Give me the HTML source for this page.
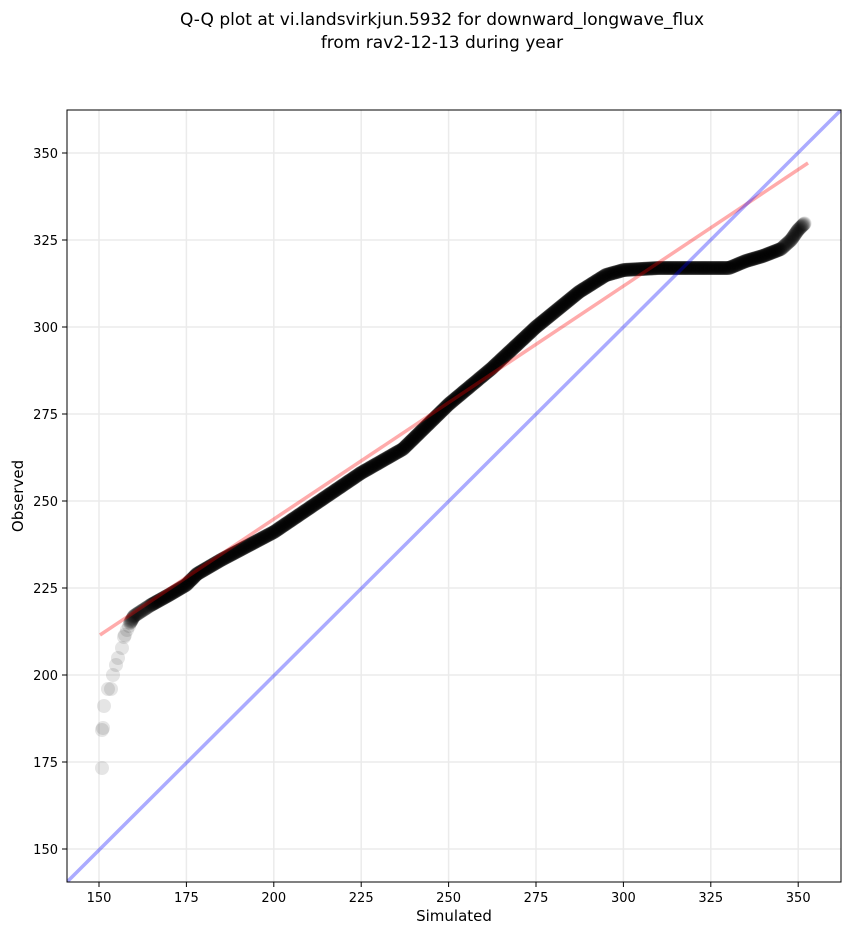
<!DOCTYPE html>
<html><head><meta charset="utf-8"><style>
body{margin:0;background:#fff}
svg{display:block;font-family:"DejaVu Sans","Liberation Sans",sans-serif}
</style></head><body>
<svg id="s" width="851" height="934" xmlns="http://www.w3.org/2000/svg">
<rect width="851" height="934" fill="#fff"/>
<text x="442" y="25" font-size="17" text-anchor="middle">Q-Q plot at vi.landsvirkjun.5932 for downward_longwave_flux</text>
<text x="442" y="48" font-size="17" text-anchor="middle">from rav2-12-13 during year</text>
<g id="grid" stroke="#ebebeb" stroke-width="1.5"></g>
<g id="pts"></g>
<clipPath id="c"><rect x="67" y="110" width="774" height="772"/></clipPath>
<line x1="100" y1="635" x2="808" y2="163" stroke="#f00" stroke-opacity="0.33" stroke-width="3.5"/>
<line x1="67" y1="882" x2="841" y2="110" stroke="#00f" stroke-opacity="0.33" stroke-width="3.5" clip-path="url(#c)"/>
<rect x="67" y="110" width="774" height="772" fill="none" stroke="#000" stroke-width="1"/>
<g id="ticks" font-size="13"></g>
<text x="454" y="921" font-size="15" text-anchor="middle">Simulated</text>
<text x="23" y="496" font-size="15" text-anchor="middle" transform="rotate(-90 23 496)">Observed</text>
</svg>
<script>
var NS="http://www.w3.org/2000/svg",g=document.getElementById('grid'),t=document.getElementById('ticks'),p=document.getElementById('pts');
function el(par,n,a,txt){var e=document.createElementNS(NS,n);for(var k in a)e.setAttribute(k,a[k]);if(txt)e.textContent=txt;par.appendChild(e);return e;}
for(var v=150;v<=350;v+=25){var x=99+(v-150)*3.496,y=849-(v-150)*3.48;
el(g,'line',{x1:x,y1:110,x2:x,y2:882});el(g,'line',{x1:67,y1:y,x2:841,y2:y});
el(t,'line',{x1:x,y1:882,x2:x,y2:887,stroke:'#000'});el(t,'line',{x1:62,y1:y,x2:67,y2:y,stroke:'#000'});
el(t,'text',{x:x,y:902,'text-anchor':'middle'},v);el(t,'text',{x:58,y:y+5,'text-anchor':'end'},v);}
var tail=[[102,768],[102,730],[103,728],[104,706],[108,689],[111,689],[113,675],[116,665],[118,658],[122,648],[124,637],[125,635],[127,630],[129,626]];
tail.forEach(function(q){el(p,'circle',{cx:q[0],cy:q[1],r:7,fill:'#000','fill-opacity':0.1});});
var L=[[130,623],[134,616],[151,605],[169,595],[186,585],[197,574],[221,560],[274,532],[361,473],[403,449],[449,404],[491,369],[536,327],[579,292],[606,275],[624,270],[659,268],[729,268],[746,261],[763,256],[781,249],[791,240],[798,230],[805,223]];
for(var i=0;i<L.length-1;i++){var a=L[i],b=L[i+1],d=Math.hypot(b[0]-a[0],b[1]-a[1]),n=Math.ceil(d/0.8);
var op=a[0]<150?0.12:(a[0]>770?0.12:0.2);
for(var j=0;j<n;j++){var f=j/n;el(p,'circle',{cx:(a[0]+(b[0]-a[0])*f).toFixed(1),cy:(a[1]+(b[1]-a[1])*f).toFixed(1),r:7,fill:'#000','fill-opacity':op});}}
</script>
</body></html>
